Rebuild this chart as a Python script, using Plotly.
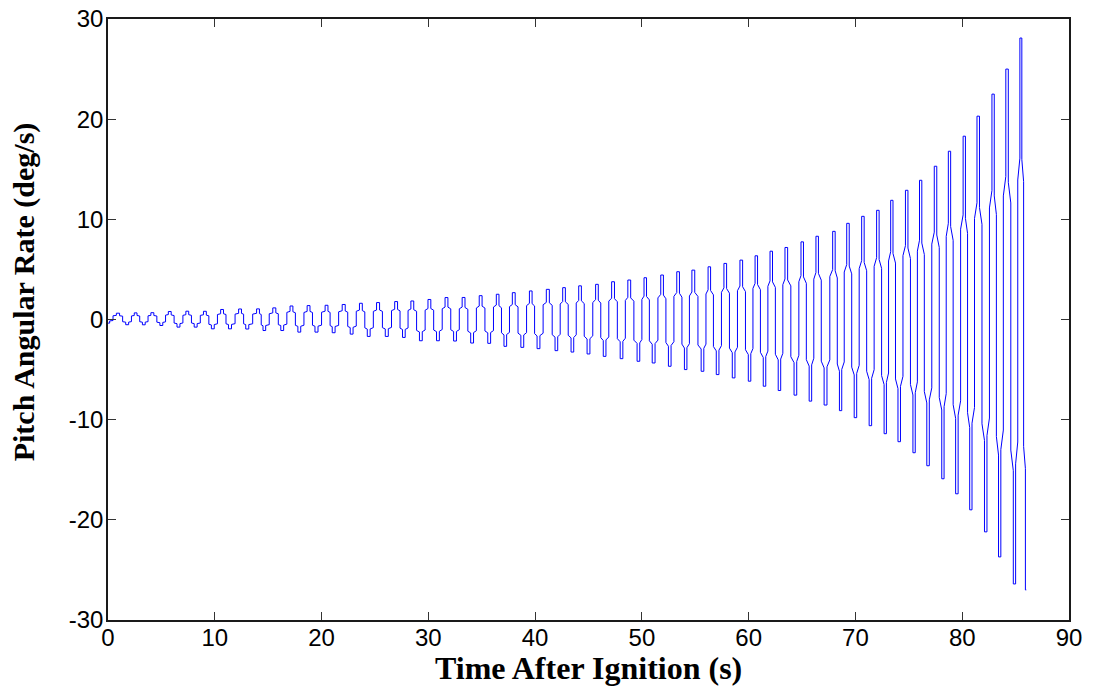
import plotly.graph_objects as go

# values (time in s, rate in deg/s)
start_time = 0.0
start_rate = -0.36

peak_time = [0.94, 2.59, 4.15, 5.78, 7.43, 9.09, 10.7, 12.4, 14.1, 15.6,
             17.2, 18.8, 20.5, 22.1, 23.7, 25.3, 27.0, 28.5, 30.1, 31.7,
             33.3, 34.9, 36.5, 38.0, 39.6, 41.2, 42.7, 44.2, 45.8, 47.3,
             48.8, 50.3, 51.9, 53.4, 54.8, 56.3, 57.8, 59.3, 60.7, 62.1,
             63.5, 65.0, 66.4, 68.0, 69.3, 70.7, 72.1, 73.4, 74.8, 76.1,
             77.5, 78.8, 80.2, 81.5, 82.9, 84.2, 85.5]
peak_rate = [0.63, 0.66, 0.68, 0.80, 0.83, 0.82, 1.00, 1.05, 1.06, 1.16,
             1.35, 1.39, 1.42, 1.50, 1.62, 1.69, 1.79, 1.85, 2.00, 2.19,
             2.20, 2.38, 2.52, 2.68, 2.85, 3.01, 3.18, 3.36, 3.51, 3.77,
             3.94, 4.17, 4.44, 4.77, 4.93, 5.26, 5.60, 5.93, 6.36, 6.82,
             7.19, 7.75, 8.31, 8.80, 9.60, 10.3, 10.9, 11.9, 12.9, 13.9,
             15.3, 16.8, 18.3, 20.3, 22.5, 25.0, 28.1]

trough_time = [1.8, 3.35, 5.0, 6.6, 8.2, 9.8, 11.4, 13.0, 14.6, 16.3,
               17.9, 19.5, 21.1, 22.8, 24.4, 26.1, 27.7, 29.3, 30.9, 32.5,
               34.1, 35.7, 37.2, 38.8, 40.3, 42.0, 43.5, 45.0, 46.5, 48.1,
               49.7, 51.1, 52.6, 54.1, 55.7, 57.1, 58.6, 60.1, 61.5, 62.9,
               64.4, 65.8, 67.2, 68.6, 70.0, 71.4, 72.8, 74.1, 75.5, 76.8,
               78.2, 79.5, 80.8, 82.2, 83.5, 84.9, 86.0]
trough_rate = [-0.52, -0.53, -0.60, -0.76, -0.76, -0.93, -0.93, -0.95, -1.10, -1.10,
               -1.26, -1.26, -1.32, -1.46, -1.69, -1.69, -1.79, -2.12, -2.12, -2.15,
               -2.35, -2.38, -2.68, -2.78, -2.91, -3.11, -3.25, -3.44, -3.68, -3.91,
               -4.17, -4.34, -4.67, -5.00, -5.17, -5.50, -5.83, -6.16, -6.66, -7.09,
               -7.55, -8.15, -8.54, -9.10, -9.80, -10.6, -11.4, -12.2, -13.3, -14.6,
               -15.9, -17.4, -19.0, -21.2, -23.7, -26.4, -27.0]

x_ticks = [0, 10, 20, 30, 40, 50, 60, 70, 80, 90]
y_ticks = [-30, -20, -10, 0, 10, 20, 30]
y_ticktext = ["-30", "-20", "-10", "0", "10", "20", "30"]

# alternate extrema: start, peak, trough, peak, ...
ext_t = [start_time]
ext_v = [start_rate]
for pt, pv, tt, tv in zip(peak_time, peak_rate, trough_time, trough_rate):
    ext_t += [pt, tt]
    ext_v += [pv, tv]

# the recorded signal is sample-and-hold (6 holds per cycle): each swing
# between extrema goes through two hold levels, at about 1/4 and 3/4
xs, ys = [ext_t[0]], [ext_v[0]]
n = len(ext_t)
for i in range(n - 1):
    t1, v1, t2, v2 = ext_t[i], ext_v[i], ext_t[i + 1], ext_v[i + 1]
    d = t2 - t1
    dv = v2 - v1
    a = t1 + d / 6
    b = t1 + d / 2
    c = t1 + 5 * d / 6
    xs += [a, a, b, b, c, c]
    ys += [v1, v1 + 0.22 * dv, v1 + 0.26 * dv, v1 + 0.74 * dv, v1 + 0.78 * dv, v2]
xs.append(ext_t[-1])
ys.append(ext_v[-1])

fig = go.Figure()
fig.add_trace(go.Scatter(x=xs, y=ys, mode="lines",
                         line=dict(color="#0000ff", width=1),
                         showlegend=False, hoverinfo="skip"))

axis_common = dict(showline=True, linecolor="#1a1a1a", linewidth=1.5, mirror="allticks",
                   ticks="inside", ticklen=8, tickwidth=1, tickcolor="#333333",
                   showgrid=False, zeroline=False, automargin=False,
                   ticklabeloverflow="allow",
                   tickfont=dict(family="Liberation Sans, Arial", size=24, color="black"))

fig.update_xaxes(range=[0, 90], tickvals=x_ticks, ticklabelstandoff=-5, **axis_common)
fig.update_yaxes(range=[-30, 30], tickvals=y_ticks, ticktext=y_ticktext,
                 ticklabelstandoff=-2, **axis_common)

# axis titles as annotations so they sit where the reference has them
title_font = "Liberation Serif, Times New Roman"
fig.add_annotation(text="<b>Time After Ignition (s)</b>", xref="paper", yref="paper",
                   x=0.5, y=-0.08, xanchor="center", yanchor="middle", showarrow=False,
                   font=dict(family=title_font, size=32, color="black"))
fig.add_annotation(text="<b>Pitch Angular Rate (deg/s)</b>", xref="paper", yref="paper",
                   x=-0.088, y=0.546, xanchor="center", yanchor="middle", showarrow=False,
                   textangle=-90, font=dict(family=title_font, size=30, color="black"))

# page body keeps an 8px margin, so the figure is drawn 8px smaller each way
fig.update_layout(width=1090, height=682, plot_bgcolor="white", paper_bgcolor="white",
                  margin=dict(l=100, r=29, t=11, b=70))

fig.write_html("out.html")
